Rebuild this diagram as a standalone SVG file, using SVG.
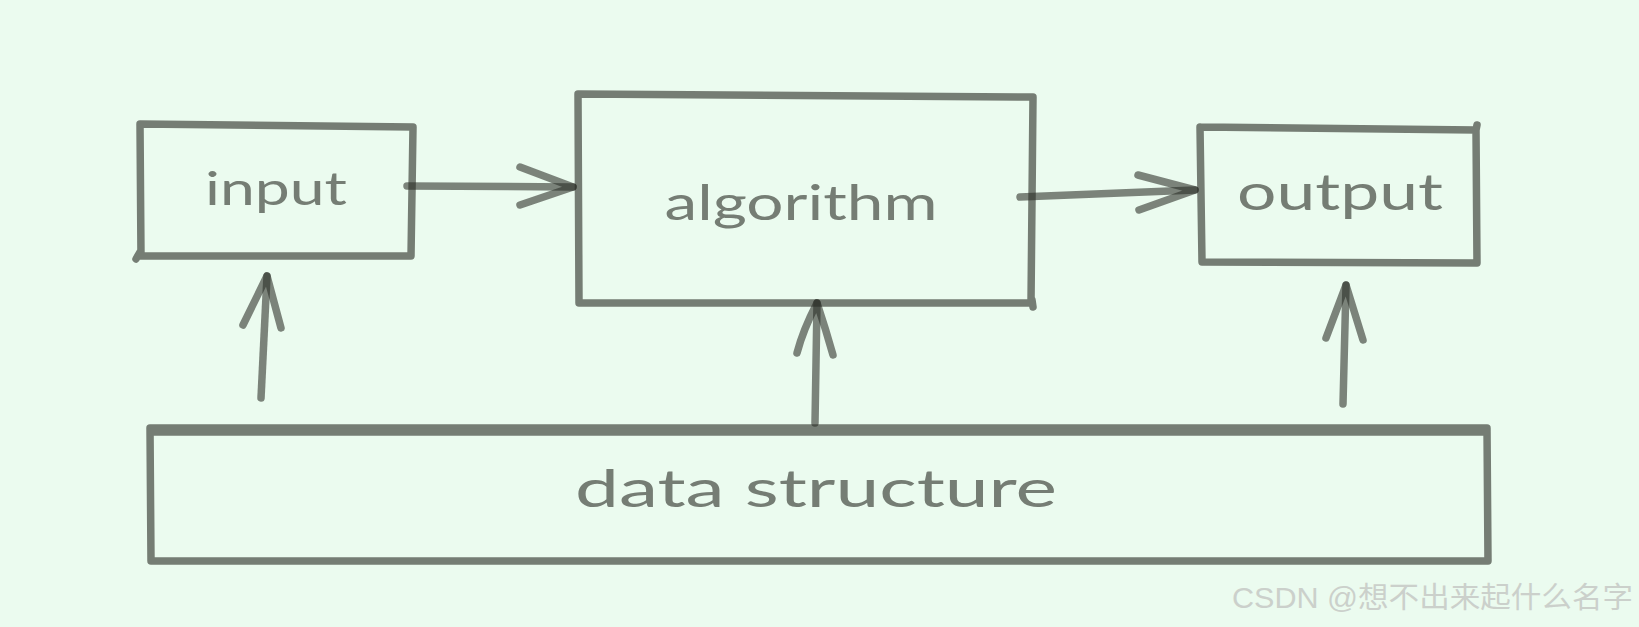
<svg xmlns="http://www.w3.org/2000/svg" width="1639" height="627" viewBox="0 0 1639 627">
  <style>
    .box { fill: none; stroke: #757d74; stroke-width: 7.5; stroke-linecap: round; stroke-linejoin: round; }
    .conn { fill: none; stroke: #2a2d26; stroke-opacity: 0.58; stroke-width: 7.5; stroke-linecap: round; stroke-linejoin: round; }
    .lbl { font-family: "Lato", "Open Sans", "Noto Sans", sans-serif; fill: #757d74; text-anchor: middle; }
    .wm { font-family: "Liberation Sans", "Noto Sans CJK SC", sans-serif; font-size: 29px; fill: #cbd0cb; }
  </style>
  <rect x="0" y="0" width="1639" height="627" fill="#ebfbef"/>

  <g id="node-input">
    <path class="box" d="M140,124 L413,127 L411,256 L141,256 L140,124 M140,252 L136,259"/>
    <text class="lbl" x="276" y="205" font-size="46" textLength="142" lengthAdjust="spacingAndGlyphs">input</text>
  </g>

  <g id="node-algorithm">
    <path class="box" d="M578,94 L1033,97 L1031,303 L579,303 L578,94 M1032,300 L1033,307"/>
    <text class="lbl" x="801" y="220" font-size="49" textLength="273" lengthAdjust="spacingAndGlyphs">algorithm</text>
  </g>

  <g id="node-output">
    <path class="box" d="M1200,127 L1476,130 L1477,263 L1202,262 L1200,127 M1476,130 L1477,125"/>
    <text class="lbl" x="1340" y="210" font-size="50" textLength="206" lengthAdjust="spacingAndGlyphs">output</text>
  </g>

  <g id="node-data-structure">
    <path class="box" d="M150,428 L1487,428 L1488,561 L151,561 L150,428"/>
    <path class="box" d="M152,432 L1486,432" stroke-width="6"/>
    <text class="lbl" x="816" y="507" font-size="53" textLength="482" lengthAdjust="spacingAndGlyphs">data structure</text>
  </g>

  <g id="connectors">
    <path class="conn" d="M407,186 L573,187"/>
    <path class="conn" d="M520,167 L573,187 L520,205"/>
    <path class="conn" d="M1020,197 L1195,190"/>
    <path class="conn" d="M1138,175 L1195,190 L1139,210"/>
    <path class="conn" d="M261,398 L267,276" stroke-width="7"/>
    <path class="conn" d="M243,325 L267,276 L281,328" stroke-width="7"/>
    <path class="conn" d="M815,423 L817,303" stroke-width="7"/>
    <path class="conn" d="M797,353 Q803,330 817,303 Q826,330 833,355" stroke-width="7"/>
    <path class="conn" d="M1343,404 L1346,285" stroke-width="7"/>
    <path class="conn" d="M1326,338 L1346,285 L1363,340" stroke-width="7"/>
  </g>

  <text class="wm" x="1232" y="608" textLength="401" lengthAdjust="spacingAndGlyphs">CSDN @想不出来起什么名字</text>
</svg>
